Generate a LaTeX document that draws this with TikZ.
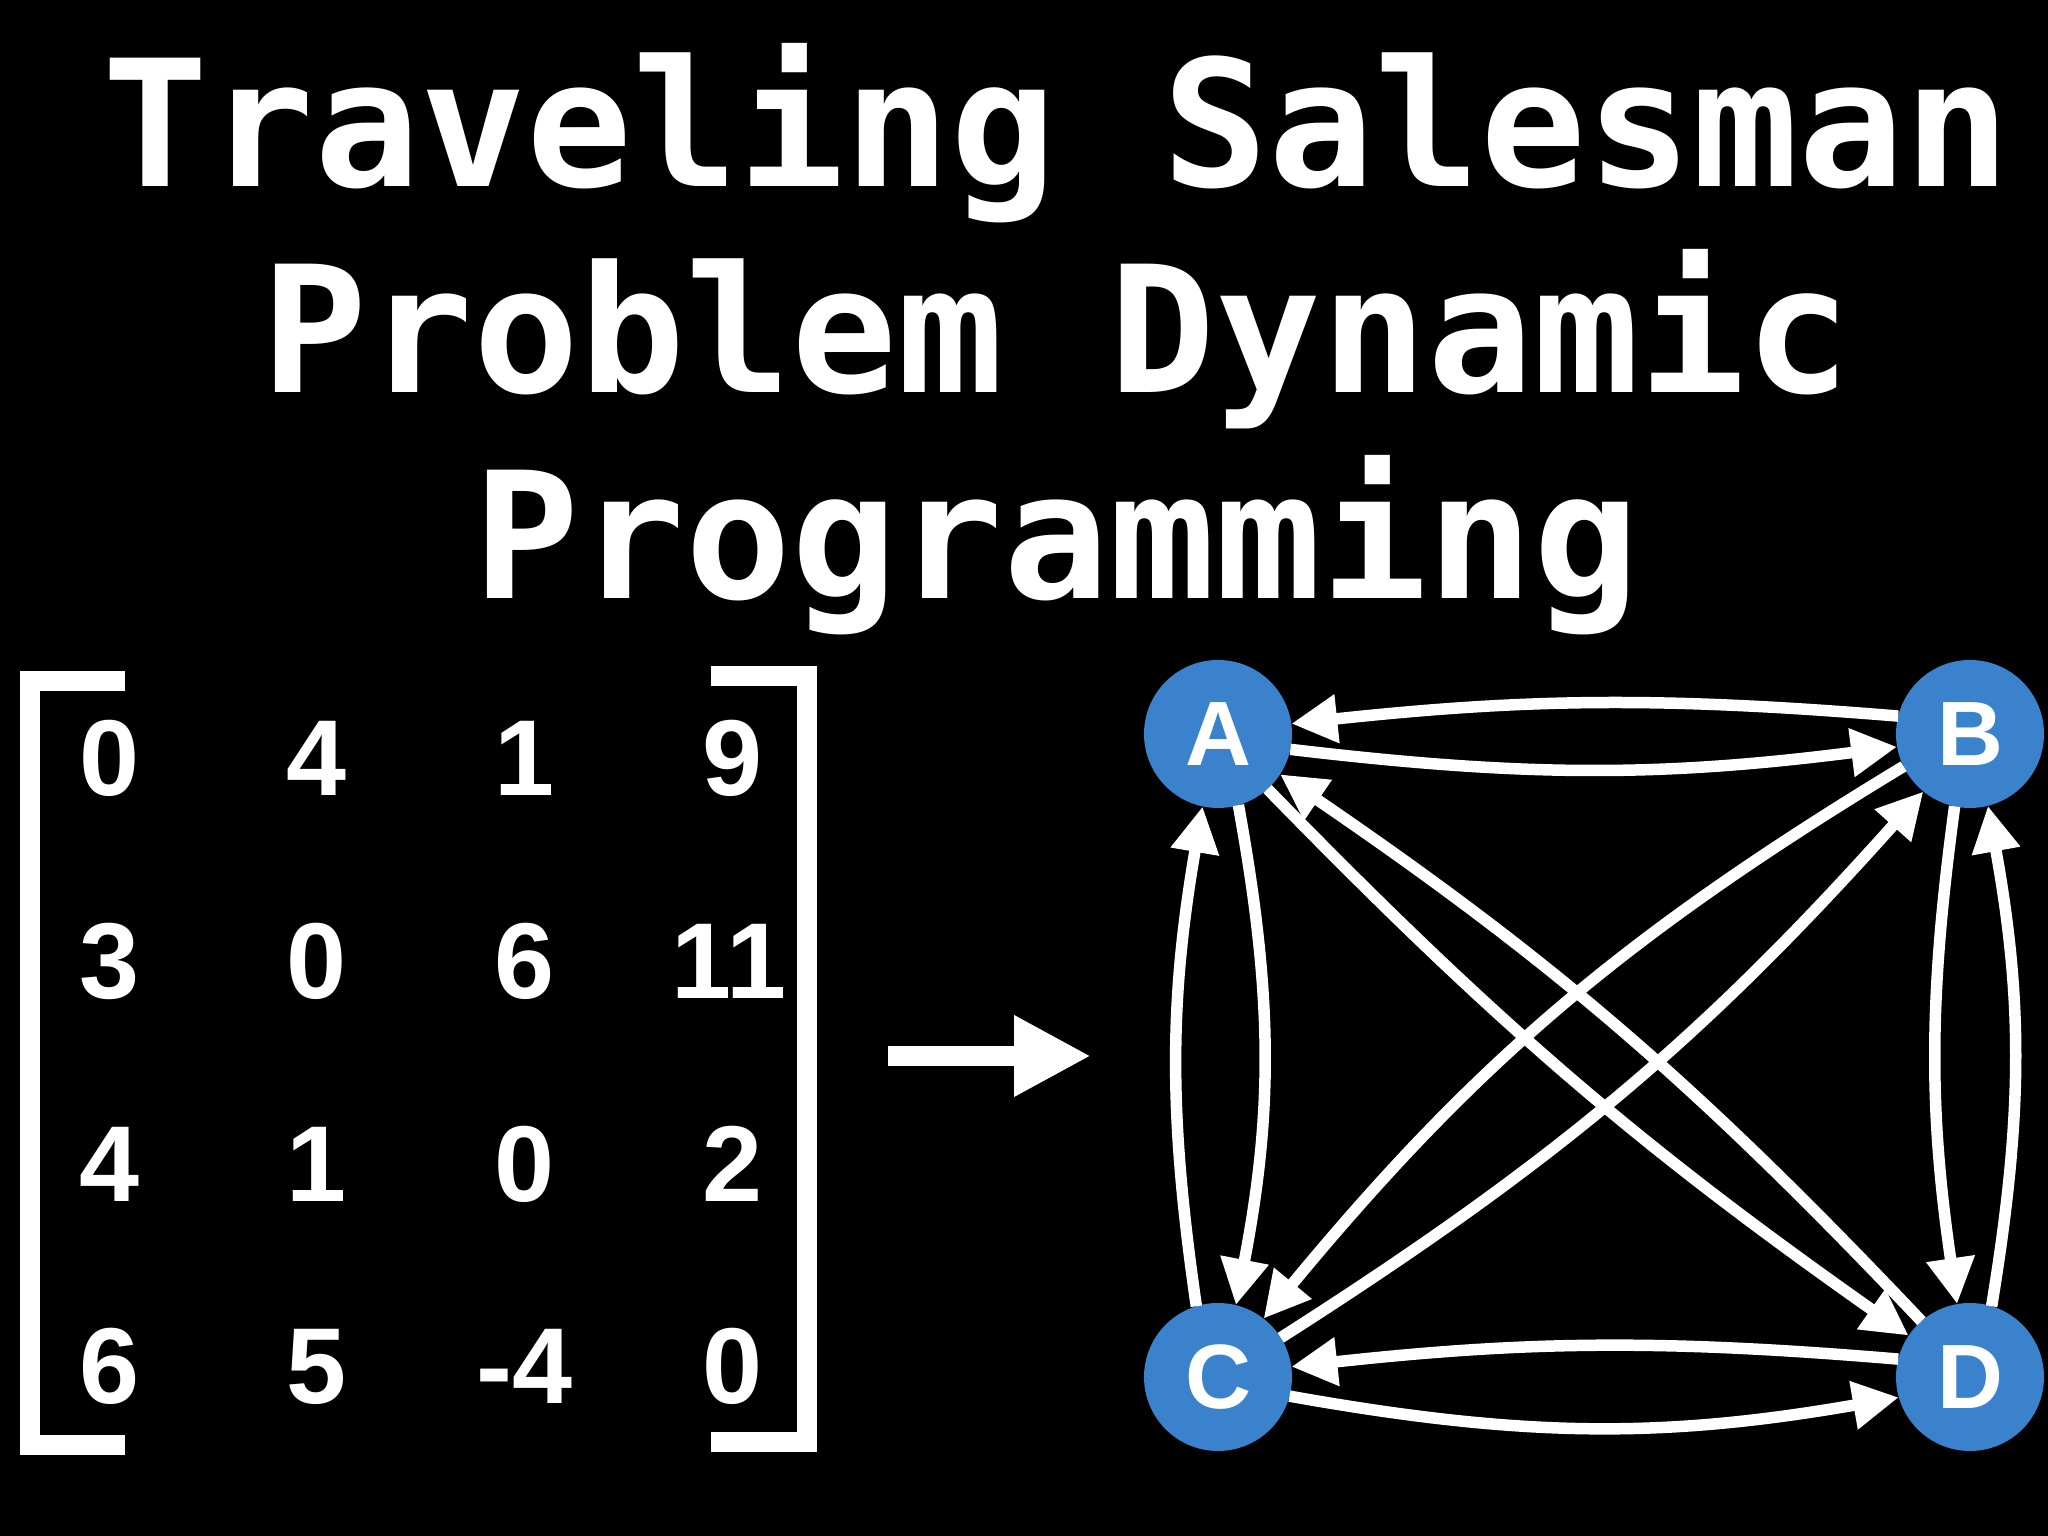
\documentclass[tikz,border=0pt]{standalone}
\usepackage{fontspec}
\setmainfont{Liberation Sans}
\newfontfamily\monofont{DejaVu Sans Mono}
\usetikzlibrary{arrows.meta}
\definecolor{nodeblue}{HTML}{3B82CD}

\begin{document}
\begin{tikzpicture}[
    city/.style={circle, fill=nodeblue, minimum size=1.48cm, inner sep=0pt, outer sep=0pt, text=white, font=\fontsize{26}{30}\selectfont\bfseries},
    cost/.style={text=white, inner sep=0pt, font=\fontsize{30.7}{36}\selectfont\bfseries},
    titleline/.style={text=white, anchor=base, font=\monofont\fontsize{50.1}{60}\selectfont\bfseries},
    route/.style={white, line width=0.115cm, -{Triangle[length=4.6mm, width=4.6mm]}},
    bracket/.style={white, line width=0.2cm, line join=miter}
  ]
  % Fondo
  \fill[black] (0,0) rectangle (20.48,15.36);

  % Titulo
  \node[titleline] (title1) at (10.57,13.49) {Traveling Salesman};
  \node[titleline] (title2) at (10.57,11.43) {Problem Dynamic};
  \node[titleline] (title3) at (10.57,9.37) {Programming};

  % Matriz de costos
  \draw[bracket] (1.25,8.55) -- (0.30,8.55) -- (0.30,0.91) -- (1.25,0.91);
  \draw[bracket] (7.11,8.60) -- (8.07,8.60) -- (8.07,0.94) -- (7.11,0.94);
  \node[cost] (c11) at (1.095,7.78) {0};
  \node[cost] (c12) at (3.17,7.78) {4};
  \node[cost] (c13) at (5.245,7.78) {1};
  \node[cost] (c14) at (7.32,7.78) {9};
  \node[cost] (c21) at (1.095,5.75) {3};
  \node[cost] (c22) at (3.17,5.75) {0};
  \node[cost] (c23) at (5.245,5.75) {6};
  \node[cost] (c24) at (7.29,5.75) {1\kern-.04em1};
  \node[cost] (c31) at (1.095,3.72) {4};
  \node[cost] (c32) at (3.17,3.72) {1};
  \node[cost] (c33) at (5.245,3.72) {0};
  \node[cost] (c34) at (7.32,3.72) {2};
  \node[cost] (c41) at (1.095,1.695) {6};
  \node[cost] (c42) at (3.17,1.695) {5};
  \node[cost] (c43) at (5.245,1.695) {-4};
  \node[cost] (c44) at (7.32,1.695) {0};

  % Flecha hacia el grafo
  \coordinate (arrowstart) at (8.88,4.80);
  \coordinate (arrowend) at (10.91,4.80);
  \draw[white, line width=0.2cm, -{Triangle[length=7.7mm, width=7.6mm]}] (arrowstart) -- (arrowend);

  % Ciudades
  \node[city] (A) at (12.18,8.02) {A};
  \node[city] (B) at (19.70,8.02) {B};
  \node[city] (C) at (12.18,1.59) {C};
  \node[city] (D) at (19.70,1.59) {D};

  % Rutas
  \draw[route] (A.-12) to[bend right=7] (B.-170.5);
  \draw[route] (B.166.4) to[bend right=5.4] (A.8.3);
  \draw[route] (C.-15.3) to[bend right=10] (D.-164);
  \draw[route] (D.166.9) to[bend right=5.5] (C.8);
  \draw[route] (A.-74.7) to[bend left=10.6] (C.76.7);
  \draw[route] (C.107.7) to[bend left=9] (A.-102);
  \draw[route] (B.-102.3) to[bend right=8] (D.100.8);
  \draw[route] (D.73.6) to[bend right=9.8] (B.-76.9);
  \draw[route] (A.-48) to[bend right=5.3] (D.146.4);
  \draw[route] (D.131.3) to[bend right=6.1] (A.-33);
  \draw[route] (B.-154) to[bend right=9.6] (C.52.3);
  \draw[route] (C.32.3) to[bend right=7.8] (B.-129.6);
\end{tikzpicture}
\end{document}
